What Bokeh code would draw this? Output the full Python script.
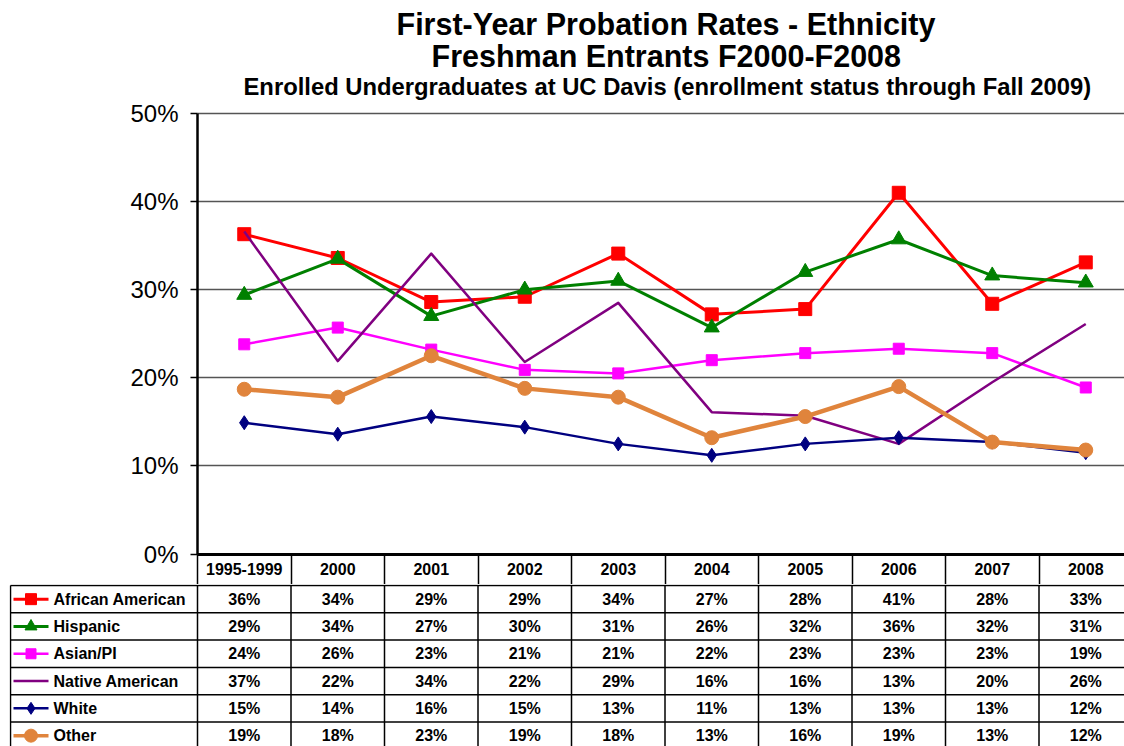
from bokeh.plotting import figure
from bokeh.layouts import column
from bokeh.models import Range1d, FixedTicker, PrintfTickFormatter, Title, Grid
from bokeh.core.properties import value
from bokeh.embed import file_html
from bokeh.resources import INLINE

# ---------------- data ----------------
categories = ["1995-1999", "2000", "2001", "2002", "2003", "2004", "2005", "2006", "2007", "2008"]

series_names = ["African American", "Hispanic", "Asian/PI", "Native American", "White", "Other"]

african_american = [36.3, 33.6, 28.6, 29.2, 34.1, 27.2, 27.8, 41.0, 28.4, 33.1]
hispanic = [29.4, 33.5, 27.0, 30.0, 31.0, 25.7, 32.0, 35.7, 31.6, 30.8]
asian_pi = [23.8, 25.7, 23.2, 20.9, 20.5, 22.0, 22.8, 23.3, 22.8, 18.9]
native_american = [36.6, 21.9, 34.1, 21.8, 28.5, 16.1, 15.7, 12.5, 19.5, 26.1]
white = [14.9, 13.6, 15.6, 14.4, 12.5, 11.2, 12.5, 13.2, 12.7, 11.5]
other = [18.7, 17.8, 22.5, 18.8, 17.8, 13.2, 15.6, 19.0, 12.7, 11.8]

# values printed in the data table (rounded %)
table_african_american = [36, 34, 29, 29, 34, 27, 28, 41, 28, 33]
table_hispanic = [29, 34, 27, 30, 31, 26, 32, 36, 32, 31]
table_asian_pi = [24, 26, 23, 21, 21, 22, 23, 23, 23, 19]
table_native_american = [37, 22, 34, 22, 29, 16, 16, 13, 20, 26]
table_white = [15, 14, 16, 15, 13, 11, 13, 13, 13, 12]
table_other = [19, 18, 23, 19, 18, 13, 16, 19, 13, 12]

y_ticks = [0, 10, 20, 30, 40, 50]

title_1 = "First-Year Probation Rates - Ethnicity"
title_2 = "Freshman Entrants F2000-F2008"
title_3 = "Enrolled Undergraduates at UC Davis (enrollment status through Fall 2009)"

series_values = [african_american, hispanic, asian_pi, native_american, white, other]
table_values = [table_african_american, table_hispanic, table_asian_pi,
                table_native_american, table_white, table_other]

# ---------------- styles ----------------
colors = ["#FF0000", "#008000", "#FF00FF", "#800080", "#000080", "#E0843C"]
markers = ["square", "triangle", "square", None, "diamond", "circle"]
marker_sizes = [13, 15, 11, 0, 14, 14]
line_widths = [3, 3, 2.5, 2.5, 2.5, 4.5]
legend_marker_sizes = [11, 12, 10, 0, 12, 13]

FONT = "Liberation Sans"
W = 1124
PX = 93.5            # pixels per category
AXIS_PX = 197        # screen x of the value axis
TL = 9               # left edge of the frames (table starts here)
xs = list(range(len(categories)))
x_start = -0.5 + (TL - AXIS_PX) / PX
x_end = -0.5 + (W - AXIS_PX) / PX

# vertical geometry of the chart (pixels)
H_TOP = 584
FRAME_TOP = 100
Y50_PX = 113.0
Y0_PX = 553.5
PPU = (Y0_PX - Y50_PX) / 50.0
y_hi = 50 + (Y50_PX - FRAME_TOP) / PPU
y_lo = -(H_TOP - Y0_PX) / PPU

# ---------------- main chart ----------------
p = figure(width=W, height=H_TOP, x_range=Range1d(x_start, x_end), y_range=Range1d(y_lo, y_hi),
           output_backend="svg", toolbar_location=None,
           min_border_left=TL, min_border_right=0, min_border_top=FRAME_TOP, min_border_bottom=0)
p.outline_line_color = None
p.background_fill_color = "white"
p.border_fill_color = "white"


def make_title(txt, size, standoff, left_px):
    kw = dict(text=txt, align="left", offset=left_px - TL, text_font=FONT,
              text_font_style="bold", text_font_size=size, text_color="black")
    try:
        return Title(standoff=standoff, **kw)
    except ValueError:
        return Title(standoff=0, **kw)


p.add_layout(make_title(title_3, "23.8px", 2, 243), "above")
p.add_layout(make_title(title_2, "30.5px", -6, 431), "above")
p.add_layout(make_title(title_1, "30.5px", -2, 396), "above")

p.xgrid.visible = False
p.ygrid.ticker = FixedTicker(ticks=y_ticks)
p.ygrid.grid_line_color = "#555555"
p.ygrid.grid_line_width = 1.5
if "cross_bounds" in Grid.properties():
    p.ygrid.cross_bounds = (-0.5, x_end)
    fallback_grid = False
else:
    p.ygrid.visible = False
    fallback_grid = True

ya = p.yaxis[0]
ya.fixed_location = -0.5
ya.bounds = (0, 50)
ya.ticker = FixedTicker(ticks=y_ticks)
ya.formatter = PrintfTickFormatter(format="%d%%")
ya.major_label_text_font = FONT
ya.major_label_text_font_size = "24px"
ya.major_label_text_color = "black"
ya.major_label_standoff = 12
ya.axis_line_color = "black"
ya.axis_line_width = 2.5
ya.major_tick_out = 7
ya.major_tick_in = 0
ya.major_tick_line_color = "black"
ya.major_tick_line_width = 1.5
ya.minor_tick_line_color = None

xa = p.xaxis[0]
xa.fixed_location = 0
xa.bounds = (-0.5, x_end)
xa.ticker = FixedTicker(ticks=xs, minor_ticks=[i - 0.5 for i in xs])
xa.major_label_overrides = {i: c for i, c in zip(xs, categories)}
xa.major_label_text_font = FONT
xa.major_label_text_font_style = "bold"
xa.major_label_text_font_size = "16px"
xa.major_label_text_color = "black"
xa.major_label_standoff = -21
xa.major_tick_line_color = None
xa.major_tick_out = 0
xa.major_tick_in = 0
xa.minor_tick_out = 30
xa.minor_tick_in = 0
xa.minor_tick_line_color = "black"
xa.minor_tick_line_width = 1.5
xa.axis_line_color = "black"
xa.axis_line_width = 3

if fallback_grid:
    p.multi_line(xs=[[-0.5, x_end] for _ in y_ticks[1:]], ys=[[v, v] for v in y_ticks[1:]],
                 line_color="#555555", line_width=1.5)

for vals, col, mk, ms, lw in zip(series_values, colors, markers, marker_sizes, line_widths):
    p.line(xs, vals, line_color=col, line_width=lw, line_join="round")
    if mk:
        p.scatter(xs, vals, marker=mk, size=ms, fill_color=col, line_color=col)

# ---------------- data table ----------------
TH = 746 - H_TOP
ROW = 27.3
t = figure(width=W, height=TH,
           x_range=Range1d(x_start, x_end),
           y_range=Range1d((TH - 1) / ROW, -1 / ROW),
           output_backend="svg", toolbar_location=None,
           min_border_left=TL, min_border_right=0, min_border_top=0, min_border_bottom=0)
t.axis.visible = False
t.grid.visible = False
t.outline_line_color = None

n_rows = len(series_names)
x_left = -0.5 + (10 - AXIS_PX) / PX
x_right = len(categories) - 0.5
t.multi_line(xs=[[x_left, x_right] for _ in range(n_rows + 1)],
             ys=[[r, r] for r in range(n_rows + 1)], line_color="black", line_width=1.5)
vx = [x_left] + [i - 0.5 for i in xs]
t.multi_line(xs=[[v, v] for v in vx], ys=[[0, n_rows] for _ in vx],
             line_color="black", line_width=1.5)

lx0 = -0.5 + (13 - AXIS_PX) / PX
lx1 = -0.5 + (48 - AXIS_PX) / PX
lxt = -0.5 + (53 - AXIS_PX) / PX
for r, (name, col, mk, lms, lw, tv) in enumerate(zip(series_names, colors, markers,
                                                      legend_marker_sizes, line_widths, table_values)):
    yc = r + 0.5
    t.line([lx0, lx1], [yc, yc], line_color=col, line_width=min(lw, 3.5))
    if mk:
        t.scatter([(lx0 + lx1) / 2], [yc], marker=mk, size=lms, fill_color=col, line_color=col)
    t.text(x=[lxt], y=[yc], text=[name], text_align="left",
           text_baseline="middle", text_font=value(FONT), text_font_style="bold",
           text_font_size="16px", text_color="black")
    t.text(x=xs, y=[yc] * len(xs), text=[f"{v}%" for v in tv], text_align="center",
           text_baseline="middle", text_font=value(FONT), text_font_style="bold",
           text_font_size="16px", text_color="black")

layout = column(p, t, spacing=0)
open("out.html", "w").write(file_html(layout, INLINE))
